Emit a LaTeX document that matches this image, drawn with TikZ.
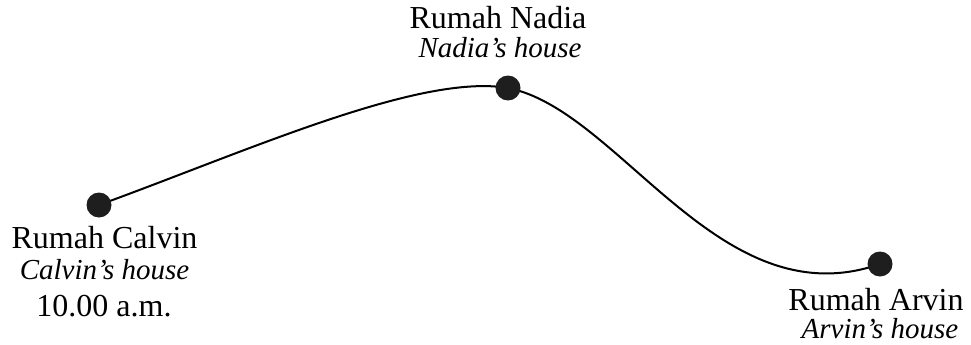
\documentclass[tikz,border=0pt]{standalone}
\usepackage{fontspec}
\setmainfont{Liberation Serif}
\usepackage{tikz}
\usetikzlibrary{positioning,calc,backgrounds}
\definecolor{dotgray}{RGB}{30,30,30}
\tikzset{
    house/.style={circle, fill=dotgray, draw=none, inner sep=0pt, minimum size=25pt},
    place/.style={anchor=base, inner sep=0pt, font=\fontsize{32}{34}\selectfont},
    placeE/.style={anchor=base, inner sep=0pt, font=\fontsize{29}{31}\selectfont\itshape},
    road/.style={line width=2pt, black},
}

\begin{document}
\begin{tikzpicture}[x=1pt,y=-1pt]
    \useasboundingbox (0,0) rectangle (971,345);
    \node[house] (calvin) at (99,205) {};
    \node[house] (nadia) at (508,88) {};
    \node[house] (arvin) at (880,264) {};
    % the road between the houses, under the dots
    \begin{pgfonlayer}{background}
    \draw[road] (calvin.center) .. controls (250,150) and (420,73) .. (nadia.center)
        .. controls (620,110) and (720,320) .. (arvin.center);
    \end{pgfonlayer}
    \node[place] (nadiaM) at (498,29) {Rumah Nadia};
    \node[placeE] (nadiaE) at (500,58) {Nadia’s house};
    \node[place] (calvinM) at (104.5,248) {Rumah Calvin};
    \node[placeE] (calvinE) at (104.5,279) {Calvin’s house};
    \node[place] (time) at (104,316) {10.00 a.m.};
    \node[place] (arvinM) at (876,310) {Rumah Arvin};
    \node[placeE] (arvinE) at (880,338) {Arvin’s house};
\end{tikzpicture}
\end{document}
